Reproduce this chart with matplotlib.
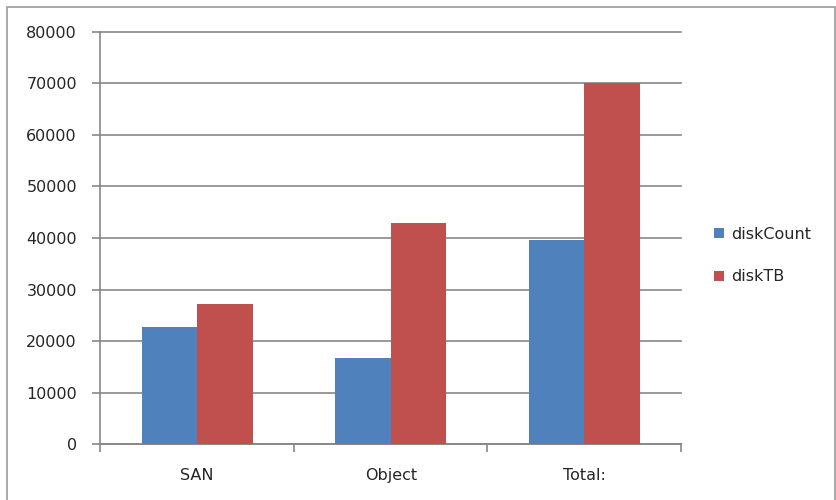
import matplotlib
matplotlib.use("Agg")
import matplotlib.pyplot as plt
from matplotlib.patches import Rectangle
import numpy as np

categories = ["SAN", "Object", "Total:"]
disk_count = [22800, 16800, 39600]
disk_tb = [27200, 42850, 70050]
yticks = [0, 10000, 20000, 30000, 40000, 50000, 60000, 70000, 80000]

blue = "#4F81BD"
red = "#C0504D"
grid = "#878787"
txt = "#262626"

plt.rcParams['font.family'] = ['DejaVu Sans']
fig = plt.figure(figsize=(8.37, 5.0), dpi=100)
ax = fig.add_axes([100.5/837, 1-444.3/500, (681-100.5)/837, (444.3-31.7)/500])

x = np.arange(len(categories))
w = 1/3.5
ax.bar(x - w/2, disk_count, width=w, color=blue, label="diskCount", zorder=3)
ax.bar(x + w/2, disk_tb, width=w, color=red, label="diskTB", zorder=3)

ax.set_xlim(-0.5, 2.5)
ax.set_ylim(0, 80000)
ax.set_yticks(yticks)
ax.set_yticklabels([str(v) for v in yticks])
ax.yaxis.grid(True, color=grid, linewidth=1.2, zorder=0)
for gl in ax.get_ygridlines():
    gl.set_clip_on(False)
ax.set_axisbelow(True)

ax.set_xticks(x)
ax.set_xticklabels(categories)
ax.set_xticks([-0.5, 0.5, 1.5, 2.5], minor=True)
ax.tick_params(axis='x', which='major', length=0, pad=17, labelsize=11.5, colors=txt)
ax.tick_params(axis='x', which='minor', length=6, width=1.2, color=grid)
ax.tick_params(axis='y', which='major', length=6, width=1.2, color=grid, labelsize=11.5,
               labelcolor=txt, pad=11)

for s in ['top', 'right']:
    ax.spines[s].set_visible(False)
for s in ['left', 'bottom']:
    ax.spines[s].set_color(grid)
    ax.spines[s].set_linewidth(1.2)

leg = ax.legend(loc='center left', bbox_to_anchor=(1.032, (444.3-255.5)/412.6), frameon=False,
                handlelength=0.6, handleheight=0.6, handletextpad=0.5,
                labelspacing=1.75, fontsize=11.5, labelcolor=txt)

fig.patches.append(Rectangle((7/837, -0.01), (835-7)/837, 1-7/500+0.01,
                             transform=fig.transFigure, fill=False,
                             edgecolor='#9a9a9a', linewidth=1.2))

fig.savefig("out.png", dpi=100, facecolor='white')
